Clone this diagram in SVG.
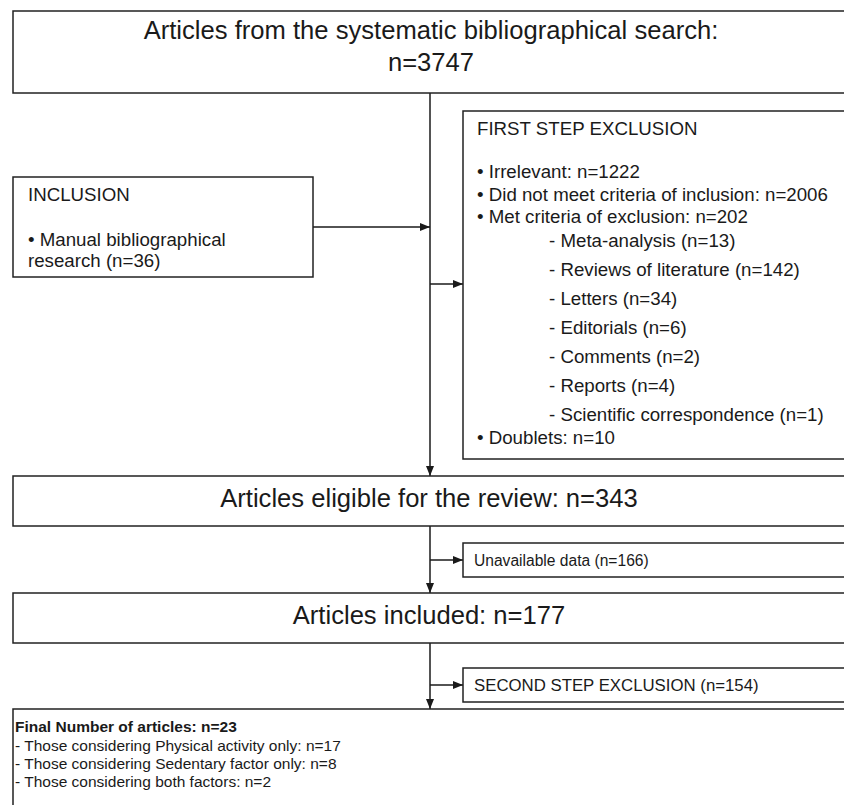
<svg xmlns="http://www.w3.org/2000/svg" width="844" height="805" viewBox="0 0 844 805">
<defs>
<marker id="ah" viewBox="0 0 10 8" refX="10" refY="4" markerWidth="10" markerHeight="8" markerUnits="userSpaceOnUse" orient="auto">
<path d="M0,0 L10,4 L0,8 Z" fill="#1a1a1a"/>
</marker>
</defs>
<style>
.box{fill:#fff;stroke:#222;stroke-width:1.5}
.ln{fill:none;stroke:#1a1a1a;stroke-width:1.5}
text{font-family:"Liberation Sans",Arial,sans-serif;fill:#1a1a1a}
.h{font-size:25.6px;text-anchor:middle}
.b{font-size:18.7px}
.s1{font-size:15.6px}
.s2{font-size:16.8px}
.f{font-size:15.5px}
</style>
<rect width="844" height="805" fill="#fff"/>
<g id="connectors">
<line class="ln" x1="430" y1="93" x2="430" y2="476" marker-end="url(#ah)"/>
<line class="ln" x1="313" y1="227" x2="430" y2="227" marker-end="url(#ah)"/>
<line class="ln" x1="430" y1="284" x2="463" y2="284" marker-end="url(#ah)"/>
<line class="ln" x1="430" y1="526" x2="430" y2="593" marker-end="url(#ah)"/>
<line class="ln" x1="430" y1="560" x2="463" y2="560" marker-end="url(#ah)"/>
<line class="ln" x1="430" y1="643" x2="430" y2="709" marker-end="url(#ah)"/>
<line class="ln" x1="430" y1="685" x2="463" y2="685" marker-end="url(#ah)"/>
</g>
<g id="search">
<rect class="box" x="13" y="11" width="860" height="82"/>
<text class="h" x="431" y="39">Articles from the systematic bibliographical search:</text>
<text class="h" x="431" y="71">n=3747</text>
</g>
<g id="inclusion">
<rect class="box" x="13" y="177" width="300" height="100"/>
<text class="b" x="28" y="201">INCLUSION</text>
<text class="b" x="28" y="246">• Manual bibliographical</text>
<text class="b" x="28" y="267">research (n=36)</text>
</g>
<g id="first-exclusion">
<rect class="box" x="463" y="111" width="400" height="348"/>
<text class="b" x="477" y="135">FIRST STEP EXCLUSION</text>
<text class="b" x="477" y="178">• Irrelevant: n=1222</text>
<text class="b" x="477" y="201">• Did not meet criteria of inclusion: n=2006</text>
<text class="b" x="477" y="223">• Met criteria of exclusion: n=202</text>
<text class="b" x="549" y="247">- Meta-analysis (n=13)</text>
<text class="b" x="549" y="276">- Reviews of literature (n=142)</text>
<text class="b" x="549" y="305">- Letters (n=34)</text>
<text class="b" x="549" y="334">- Editorials (n=6)</text>
<text class="b" x="549" y="363">- Comments (n=2)</text>
<text class="b" x="549" y="392">- Reports (n=4)</text>
<text class="b" x="549" y="421">- Scientific correspondence (n=1)</text>
<text class="b" x="477" y="444">• Doublets: n=10</text>
</g>
<g id="eligible">
<rect class="box" x="13" y="476" width="860" height="50"/>
<text class="h" x="429" y="507">Articles eligible for the review: n=343</text>
</g>
<g id="unavailable">
<rect class="box" x="463" y="543" width="400" height="34"/>
<text class="s1" x="474" y="566">Unavailable data (n=166)</text>
</g>
<g id="included">
<rect class="box" x="13" y="593" width="860" height="50"/>
<text class="h" x="429" y="624">Articles included: n=177</text>
</g>
<g id="second-exclusion">
<rect class="box" x="463" y="668" width="400" height="34"/>
<text class="s2" x="474" y="691">SECOND STEP EXCLUSION (n=154)</text>
</g>
<g id="final">
<rect class="box" x="13" y="709" width="860" height="120"/>
<text class="f" x="15" y="732" font-weight="bold">Final Number of articles: n=23</text>
<text class="f" x="15" y="751">- Those considering Physical activity only: n=17</text>
<text class="f" x="15" y="769">- Those considering Sedentary factor only: n=8</text>
<text class="f" x="15" y="787">- Those considering both factors: n=2</text>
</g>
</svg>
